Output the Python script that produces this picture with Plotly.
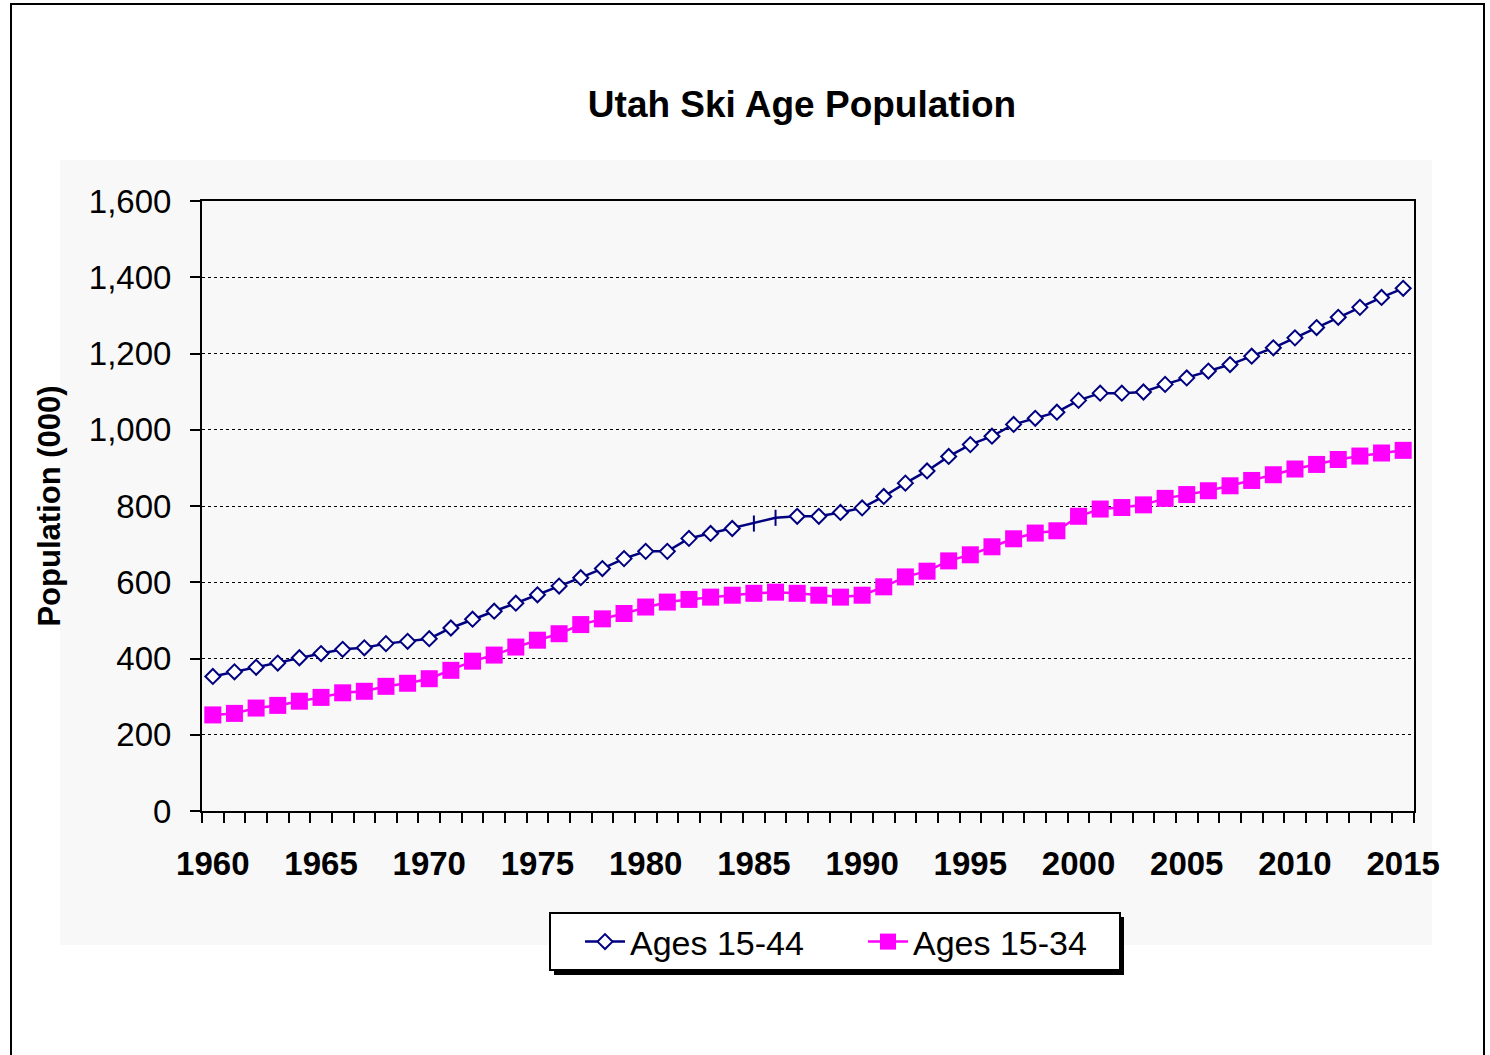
import plotly.graph_objects as go

years = list(range(1960, 2016))
ages_15_44 = [353, 365, 377, 388, 402, 413, 424, 428, 439, 445,
              452, 480, 503, 524, 545, 567, 590, 612, 636, 662,
              681, 681, 715, 728, 741, 754, 769, 773, 773, 783,
              795, 825, 860, 892, 930, 961, 983, 1014, 1030, 1046,
              1077, 1096, 1096, 1099, 1119, 1136, 1154, 1171, 1193, 1215,
              1241, 1268, 1295, 1321, 1347, 1371]
ages_15_34 = [252, 256, 270, 277, 288, 298, 310, 314, 327, 335,
              347, 369, 393, 409, 430, 448, 465, 489, 504, 518,
              535, 548, 555, 561, 566, 571, 574, 571, 566, 561,
              566, 588, 614, 629, 656, 672, 693, 714, 729, 735,
              773, 792, 796, 803, 820, 830, 840, 853, 867, 882,
              897, 909, 922, 931, 939, 946]
tick_years = list(range(1960, 2016, 5))
y_ticks = list(range(0, 1601, 200))

W, H = 1490, 1055
# plot area in pixels
L, R, T, B = 202, 1414, 201, 811
PW, PH = R - L, B - T


def px_x(sx):
    return (sx - L) / PW


def px_y(sy):
    return (B - sy) / PH


navy = "#000080"
magenta = "#FF00FF"
font_family = "Arial, 'Liberation Sans', sans-serif"

symbols_44 = ["line-ns" if yr in (1985, 1986) else "diamond" for yr in years]

fig = go.Figure()
fig.add_trace(go.Scatter(
    x=years, y=ages_15_44, mode="lines+markers", name="Ages 15-44",
    line=dict(color=navy, width=2.5),
    marker=dict(symbol=symbols_44, size=11.5, color="white",
                line=dict(color=navy, width=2)),
))
fig.add_trace(go.Scatter(
    x=years, y=ages_15_34, mode="lines+markers", name="Ages 15-34",
    line=dict(color=magenta, width=2.5),
    marker=dict(symbol="square", size=17, color=magenta,
                line=dict(color=magenta, width=0)),
))

shapes = [
    # faint grey background area
    dict(type="rect", xref="paper", yref="paper",
         x0=px_x(60), x1=px_x(1432), y0=px_y(945), y1=px_y(160),
         fillcolor="#f8f8f8", line=dict(width=0), layer="below"),
    # outer chart border
    dict(type="rect", xref="paper", yref="paper",
         x0=px_x(11), x1=px_x(1484), y0=px_y(1080), y1=px_y(4),
         fillcolor="rgba(0,0,0,0)", line=dict(color="black", width=2), layer="below"),
    # legend shadow
    dict(type="rect", xref="paper", yref="paper",
         x0=px_x(554), x1=px_x(1124), y0=px_y(975), y1=px_y(917),
         fillcolor="black", line=dict(width=0), layer="below"),
    # legend box
    dict(type="rect", xref="paper", yref="paper",
         x0=px_x(550), x1=px_x(1120), y0=px_y(970), y1=px_y(913),
         fillcolor="white", line=dict(color="black", width=2), layer="below"),
]

fig.update_layout(
    width=W, height=H,
    margin=dict(l=L, r=W - R, t=T, b=H - B),
    paper_bgcolor="white", plot_bgcolor="white",
    font=dict(family=font_family, color="black"),
    title=dict(text="<b>Utah Ski Age Population</b>", x=802 / W, xref="container",
               xanchor="center", y=1 - 104 / H, yref="container", yanchor="middle",
               font=dict(size=37, family=font_family, color="black")),
    showlegend=True,
    legend=dict(orientation="h", xref="paper", yref="paper",
                x=px_x(580), xanchor="left", y=px_y(942), yanchor="middle",
                bgcolor="rgba(0,0,0,0)", borderwidth=0,
                font=dict(size=34, family=font_family, color="black"),
                itemwidth=40, entrywidth=228, entrywidthmode="pixels"),
    shapes=shapes,
)

fig.update_xaxes(
    range=[1959.5, 2015.5], tickmode="array", tickvals=tick_years,
    ticktext=[f"<b>{y}</b>" for y in tick_years],
    tickfont=dict(size=33, family=font_family, color="black"),
    ticks="outside", ticklen=10, tickcolor="rgba(0,0,0,0)",
    ticklabelstandoff=12,
    minor=dict(tick0=1959.5, dtick=1, ticks="outside", ticklen=10,
               tickcolor="black", tickwidth=2, showgrid=False),
    showgrid=False, zeroline=False,
    showline=True, linecolor="black", linewidth=2, mirror=True,
)
fig.update_yaxes(
    range=[0, 1600], tickmode="array", tickvals=y_ticks,
    tickformat=",", tickfont=dict(size=33, family=font_family, color="black"),
    ticks="outside", ticklen=10, tickcolor="black", tickwidth=2,
    ticklabelstandoff=12,
    showgrid=True, gridcolor="black", gridwidth=1, griddash="dot",
    zeroline=False,
    showline=True, linecolor="black", linewidth=2, mirror=True,
    title=dict(text="<b>Population (000)</b>", standoff=19,
               font=dict(size=31, family=font_family, color="black")),
)

# remove the default 8px page margin so the figure fills the window exactly
fig.write_html("out.html", config={"displayModeBar": False},
               post_script="document.body.style.margin='0';")
